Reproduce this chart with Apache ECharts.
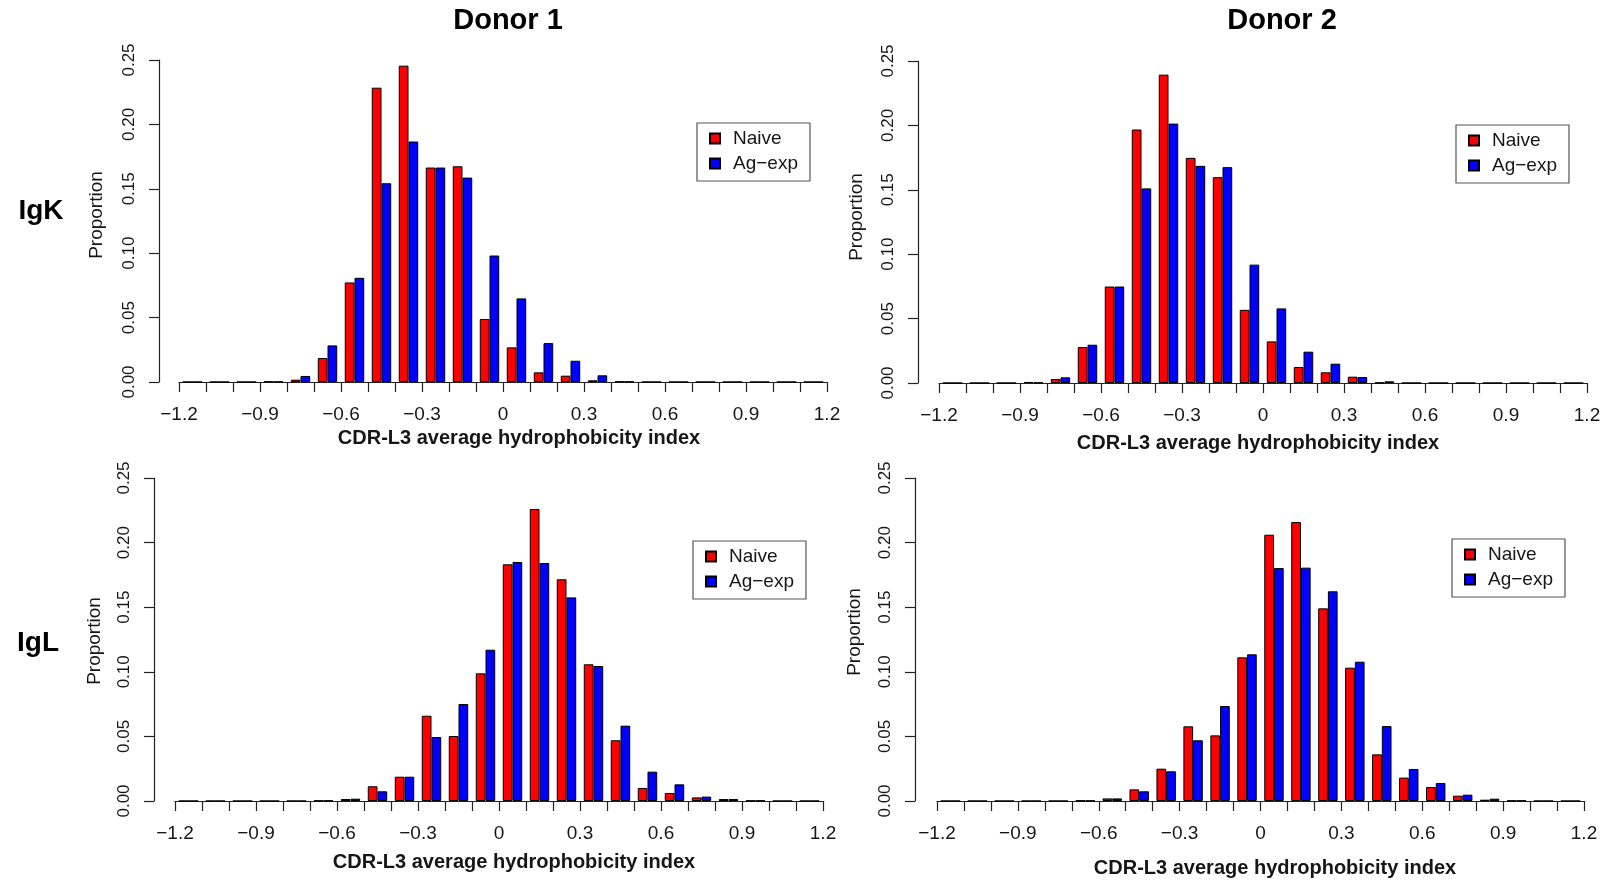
<!DOCTYPE html>
<html>
<head>
<meta charset="utf-8">
<script src="https://cdn.jsdelivr.net/npm/echarts@6/dist/echarts.min.js"></script>
<style>
  html, body { margin: 0; padding: 0; background: #ffffff; }
  #chart { width: 1614px; height: 882px; }
</style>
</head>
<body>
<div id="chart"></div>
<script>
// Histogram bins of the CDR-L3 average hydrophobicity index (width 0.1, centres)
const binCenters = ['-1.15','-1.05','-0.95','-0.85','-0.75','-0.65','-0.55','-0.45','-0.35','-0.25','-0.15','-0.05',
                    '0.05','0.15','0.25','0.35','0.45','0.55','0.65','0.75','0.85','0.95','1.05','1.15'];
const xLabelValues = [-1.2, -0.9, -0.6, -0.3, 0, 0.3, 0.6, 0.9, 1.2];
const seriesNames = ['Naive', 'Ag\u2212exp'];
const panelTitles = ['Donor 1', 'Donor 2'];
const rowTitles = ['IgK', 'IgL'];
const xTitle = 'CDR-L3 average hydrophobicity index';
const yTitle = 'Proportion';

// IgK, donor 1
const igkD1Naive = [0, 0, 0, 0.0003, 0.0018, 0.0186, 0.0773, 0.2285, 0.2456, 0.1665, 0.1675, 0.0489,
                    0.0269, 0.0075, 0.0049, 0.0013, 0.0003, 0, 0, 0, 0, 0, 0, 0];
const igkD1Ag    = [0, 0, 0, 0.0002, 0.0047, 0.0284, 0.0809, 0.1543, 0.1867, 0.1665, 0.1587, 0.0982,
                    0.0649, 0.0302, 0.0165, 0.0052, 0.0003, 0, 0, 0, 0, 0, 0, 0];
// IgK, donor 2
const igkD2Naive = [0, 0, 0, 0.0008, 0.0031, 0.0279, 0.0749, 0.1968, 0.2394, 0.1748, 0.1598, 0.0568,
                    0.0323, 0.0124, 0.0083, 0.0049, 0.0003, 0, 0, 0, 0, 0, 0, 0];
const igkD2Ag    = [0, 0, 0, 0.0003, 0.0044, 0.0297, 0.0749, 0.1511, 0.2014, 0.1686, 0.1676, 0.0919,
                    0.0579, 0.0243, 0.0150, 0.0046, 0.0013, 0, 0, 0, 0, 0, 0, 0];
// IgL, donor 1
const iglD1Naive = [0, 0, 0, 0, 0, 0.0003, 0.0015, 0.0114, 0.0188, 0.0660, 0.0503, 0.0988,
                    0.1832, 0.2260, 0.1716, 0.1058, 0.0470, 0.0101, 0.0062, 0.0028, 0.0015, 0.0003, 0, 0];
const iglD1Ag    = [0, 0, 0, 0, 0, 0.0003, 0.0018, 0.0075, 0.0188, 0.0495, 0.0751, 0.1171,
                    0.1850, 0.1842, 0.1576, 0.1045, 0.0583, 0.0227, 0.0129, 0.0034, 0.0015, 0.0003, 0, 0];
// IgL, donor 2
const iglD2Naive = [0, 0, 0, 0, 0, 0.0004, 0.0020, 0.0090, 0.0250, 0.0578, 0.0508, 0.1112,
                    0.2061, 0.2159, 0.1491, 0.1032, 0.0361, 0.0181, 0.0108, 0.0041, 0.0010, 0.0003, 0, 0];
const iglD2Ag    = [0, 0, 0, 0, 0, 0.0003, 0.0020, 0.0075, 0.0230, 0.0470, 0.0735, 0.1135,
                    0.1803, 0.1806, 0.1623, 0.1078, 0.0580, 0.0248, 0.0139, 0.0049, 0.0018, 0.0003, 0, 0];

const FONT = 'Liberation Sans, Arial, Helvetica, sans-serif';
const TEXT = '#161616';
const AXIS = '#222222';
const COLORS = ['#ff0000', '#0000ff'];

// layout of the four panels
const panels = [
  { naive: igkD1Naive, ag: igkD1Ag, grid: { left: 179, top: 60, width: 648, height: 322 }, yOffset: 20,
    legend: { left: 697, top: 123 }, xTitlePos: [519, 438], yTitlePos: [97, 215] },
  { naive: igkD2Naive, ag: igkD2Ag, grid: { left: 939, top: 61, width: 648, height: 322 }, yOffset: 21,
    legend: { left: 1456, top: 125 }, xTitlePos: [1258, 443], yTitlePos: [857, 217] },
  { naive: iglD1Naive, ag: iglD1Ag, grid: { left: 175, top: 478, width: 648, height: 323 }, yOffset: 21,
    legend: { left: 693, top: 541 }, xTitlePos: [514, 862], yTitlePos: [95, 641] },
  { naive: iglD2Naive, ag: iglD2Ag, grid: { left: 937, top: 478, width: 647, height: 323 }, yOffset: 22,
    legend: { left: 1452, top: 539 }, xTitlePos: [1275, 868], yTitlePos: [855, 632] }
];

function fmtX(v) {
  const k = Math.round(v * 10);
  if (!xLabelValues.some(t => Math.round(t * 10) === k)) return '';
  if (k === 0) return '0';
  const s = (Math.abs(k) / 10).toFixed(1);
  return k < 0 ? '\u2212' + s : s;
}

const grid = [], xAxis = [], yAxis = [], series = [], legend = [], graphic = [];

panels.forEach((p, k) => {
  grid.push(Object.assign({ containLabel: false }, p.grid));
  // bins (hidden) carry the bars; the value axis draws ticks at every bin edge
  xAxis.push({
    type: 'category', gridIndex: k, position: 'bottom', data: binCenters, boundaryGap: true, show: false
  });
  xAxis.push({
    type: 'value', gridIndex: k, position: 'bottom', min: -1.2, max: 1.2, interval: 0.1,
    axisLine: { show: true, onZero: false, lineStyle: { color: AXIS, width: 1.2 } },
    axisTick: { show: true, inside: false, length: 10, lineStyle: { color: AXIS, width: 1.2 } },
    splitLine: { show: false },
    axisLabel: { formatter: fmtX, fontSize: 19, color: TEXT, fontFamily: FONT, margin: 23,
                 showMinLabel: true, showMaxLabel: true }
  });
  yAxis.push({
    type: 'value', gridIndex: k, position: 'left', min: 0, max: 0.25, interval: 0.05, offset: p.yOffset,
    axisLine: { show: true, onZero: false, lineStyle: { color: AXIS, width: 1.2 } },
    axisTick: { show: true, inside: false, length: 10, lineStyle: { color: AXIS, width: 1.2 } },
    splitLine: { show: false },
    axisLabel: { rotate: 90, formatter: v => v.toFixed(2), fontSize: 17, color: TEXT,
                 fontFamily: FONT, margin: 21 }
  });
  [p.naive, p.ag].forEach((vals, s) => {
    series.push({
      type: 'bar', name: seriesNames[s], xAxisIndex: 2 * k, yAxisIndex: k,
      data: vals, barGap: '0%', barCategoryGap: '28%',
      itemStyle: { color: COLORS[s], borderColor: '#000', borderWidth: 1 },
      emphasis: { disabled: true }
    });
  });
  legend.push({
    orient: 'vertical', left: p.legend.left, top: p.legend.top, data: seriesNames,
    icon: 'rect', itemWidth: 10, itemHeight: 10, itemGap: 6,
    padding: [6, 12, 8, 12], borderColor: '#555', borderWidth: 1.2, selectedMode: false,
    textStyle: { fontSize: 19, color: TEXT, fontFamily: FONT, padding: [0, 0, 0, 8] }
  });
  graphic.push({
    type: 'text', x: p.xTitlePos[0], y: p.xTitlePos[1],
    style: { text: xTitle, fill: TEXT, font: 'bold 20px ' + FONT, textAlign: 'center', textVerticalAlign: 'middle' }
  });
  graphic.push({
    type: 'text', x: p.yTitlePos[0], y: p.yTitlePos[1], rotation: Math.PI / 2,
    style: { text: yTitle, fill: TEXT, font: '19px ' + FONT, textAlign: 'center', textVerticalAlign: 'middle' }
  });
});

// column and row headings
graphic.push({ type: 'text', x: 508, y: 21,
  style: { text: panelTitles[0], fill: '#000', font: 'bold 29px ' + FONT, textAlign: 'center', textVerticalAlign: 'middle' } });
graphic.push({ type: 'text', x: 1282, y: 21,
  style: { text: panelTitles[1], fill: '#000', font: 'bold 29px ' + FONT, textAlign: 'center', textVerticalAlign: 'middle' } });
graphic.push({ type: 'text', x: 41, y: 211,
  style: { text: rowTitles[0], fill: '#000', font: 'bold 28px ' + FONT, textAlign: 'center', textVerticalAlign: 'middle' } });
graphic.push({ type: 'text', x: 38, y: 643,
  style: { text: rowTitles[1], fill: '#000', font: 'bold 28px ' + FONT, textAlign: 'center', textVerticalAlign: 'middle' } });

const chart = echarts.init(document.getElementById('chart'), null, { renderer: 'canvas' });
chart.setOption({
  backgroundColor: '#ffffff',
  animation: false,
  textStyle: { fontFamily: FONT },
  grid, xAxis, yAxis, series, legend, graphic
});
</script>
</body>
</html>
